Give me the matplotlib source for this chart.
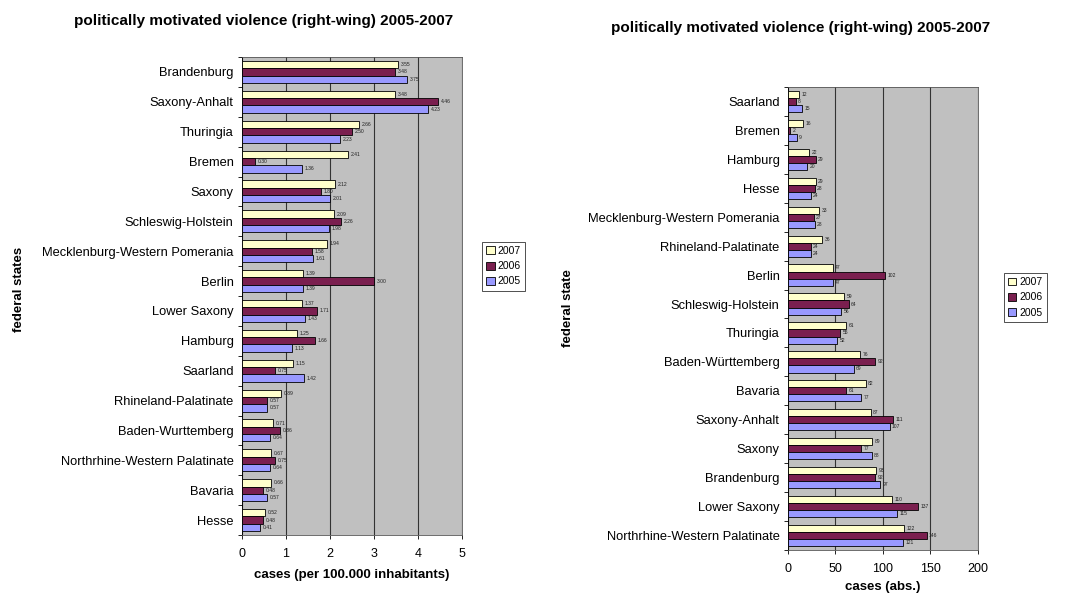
import matplotlib.pyplot as plt
import numpy as np

plt.rcParams['font.family'] = ['Liberation Sans', 'DejaVu Sans']

TITLE = "politically motivated violence (right-wing) 2005-2007"
YEARS = ['2007', '2006', '2005']
COLORS = ['#FFFFCC', '#7A1F4F', '#9999FF']

# cases per 100.000 inhabitants, top to bottom
rate_states = ['Brandenburg', 'Saxony-Anhalt', 'Thuringia', 'Bremen', 'Saxony',
               'Schleswig-Holstein', 'Mecklenburg-Western Pomerania', 'Berlin',
               'Lower Saxony', 'Hamburg', 'Saarland', 'Rhineland-Palatinate',
               'Baden-Wurttemberg', 'Northrhine-Western Palatinate', 'Bavaria', 'Hesse']
rate_2007 = [3.55, 3.48, 2.66, 2.41, 2.12, 2.09, 1.94, 1.39, 1.37, 1.25, 1.15, 0.89, 0.71, 0.67, 0.66, 0.52]
rate_2006 = [3.48, 4.46, 2.50, 0.30, 1.80, 2.26, 1.58, 3.00, 1.71, 1.66, 0.75, 0.57, 0.86, 0.75, 0.48, 0.48]
rate_2005 = [3.75, 4.23, 2.23, 1.36, 2.01, 1.98, 1.61, 1.39, 1.43, 1.13, 1.42, 0.57, 0.64, 0.64, 0.57, 0.41]

# absolute number of cases, top to bottom
abs_states = ['Saarland', 'Bremen', 'Hamburg', 'Hesse', 'Mecklenburg-Western Pomerania',
              'Rhineland-Palatinate', 'Berlin', 'Schleswig-Holstein', 'Thuringia',
              'Baden-Württemberg', 'Bavaria', 'Saxony-Anhalt', 'Saxony', 'Brandenburg',
              'Lower Saxony', 'Northrhine-Western Palatinate']
abs_2007 = [12, 16, 22, 29, 33, 36, 47, 59, 61, 76, 82, 87, 89, 93, 110, 122]
abs_2006 = [8, 2, 29, 28, 27, 24, 102, 64, 55, 92, 61, 111, 77, 92, 137, 146]
abs_2005 = [15, 9, 20, 24, 28, 24, 47, 56, 52, 69, 77, 107, 88, 97, 115, 121]


def bar_panel(ax, states, series, xmax, step, fmt, pad):
    """Grouped horizontal bars in the old spreadsheet look."""
    n = len(states)
    y = np.arange(n)
    h = 0.245
    for i, (vals, col) in enumerate(zip(series, COLORS)):
        pos = y + (i - 1) * h
        ax.barh(pos, vals, height=h, color=col, edgecolor='black', linewidth=0.6,
                label=YEARS[i], zorder=3)
        for p, v in zip(pos, vals):
            ax.text(v + pad, p, fmt.format(v), fontsize=3.6, va='center', ha='left',
                    color='#222222', zorder=4)
    ax.set_facecolor('#C0C0C0')
    ax.set_xlim(0, xmax)
    ax.set_ylim(n - 0.5, -0.5)
    ax.set_xticks(np.arange(0, xmax + step / 2, step))
    ax.xaxis.grid(True, color='#333333', linewidth=0.8, zorder=1)
    ax.set_yticks(y)
    ax.set_yticklabels(states, fontsize=9.3)
    ax.set_yticks(np.arange(n + 1) - 0.5, minor=True)
    ax.tick_params(axis='y', which='major', length=0, pad=6)
    ax.tick_params(axis='y', which='minor', length=3, width=0.6)
    ax.tick_params(axis='x', length=3, width=0.6, labelsize=9, pad=6)
    for s in ax.spines.values():
        s.set_linewidth(0.6)
        s.set_color('#555555')
    ax.spines['left'].set_color('black')


fig = plt.figure(figsize=(10.67, 5.99), dpi=100)

ax1 = fig.add_axes([0.2268, 0.1068, 0.2062, 0.798])
bar_panel(ax1, rate_states, [rate_2007, rate_2006, rate_2005], 5, 1, '{:.2f}', 0.06)
ax1.set_xlabel('cases (per 100.000 inhabitants)', fontsize=9.5, fontweight='bold', labelpad=7)
fig.text(0.018, 0.516, 'federal states', rotation=90, fontsize=9.5, fontweight='bold',
         ha='center', va='center')
fig.text(0.247, 0.965, TITLE, fontsize=11, fontweight='bold', ha='center', va='center')
leg1 = ax1.legend(loc='upper left', bbox_to_anchor=(0.447, 0.605),
                  bbox_transform=fig.transFigure, fontsize=7.5, frameon=True,
                  fancybox=False, edgecolor='black', handlelength=0.8,
                  handleheight=0.8, handletextpad=0.3, borderpad=0.4, labelspacing=0.5)
leg1.get_frame().set_linewidth(0.6)

ax2 = fig.add_axes([0.7385, 0.0818, 0.178, 0.773])
bar_panel(ax2, abs_states, [abs_2007, abs_2006, abs_2005], 200, 50, '{:d}', 2.5)
ax2.set_xlabel('cases (abs.)', fontsize=9.5, fontweight='bold', labelpad=5)
fig.text(0.532, 0.485, 'federal state', rotation=90, fontsize=9.5, fontweight='bold',
         ha='center', va='center')
fig.text(0.75, 0.953, TITLE, fontsize=11, fontweight='bold', ha='center', va='center')
leg2 = ax2.legend(loc='upper left', bbox_to_anchor=(0.936, 0.553),
                  bbox_transform=fig.transFigure, fontsize=7.5, frameon=True,
                  fancybox=False, edgecolor='black', handlelength=0.8,
                  handleheight=0.8, handletextpad=0.3, borderpad=0.4, labelspacing=0.5)
leg2.get_frame().set_linewidth(0.6)

fig.savefig('out.png', dpi=100, facecolor='white')
